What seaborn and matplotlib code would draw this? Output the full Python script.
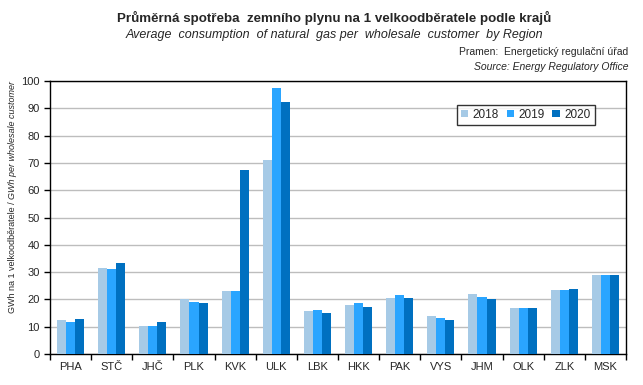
import pandas as pd
import numpy as np
import matplotlib
matplotlib.use("Agg")
import matplotlib.pyplot as plt
import seaborn as sns

# --- data ---
kraje = ['PHA', 'STČ', 'JHČ', 'PLK', 'KVK', 'ULK', 'LBK', 'HKK', 'PAK', 'VYS', 'JHM', 'OLK', 'ZLK', 'MSK']
roky = ['2018', '2019', '2020']
v2018 = [12.6, 31.6, 10.4, 20.2, 23.2, 71.1, 15.9, 18.0, 20.6, 14.0, 22.1, 17.0, 23.5, 29.0]
v2019 = [11.8, 31.2, 10.4, 19.1, 23.2, 97.4, 16.2, 18.8, 21.7, 13.3, 21.0, 17.0, 23.5, 29.0]
v2020 = [12.9, 33.4, 11.8, 18.8, 67.4, 92.3, 15.1, 17.3, 20.6, 12.6, 20.2, 17.0, 23.9, 29.0]
barvy = ['#A6CAE6', '#2AA5FF', '#0070C0']

df = pd.DataFrame({'kraj': kraje * 3,
                   'rok': sum([[r] * len(kraje) for r in roky], []),
                   'hodnota': v2018 + v2019 + v2020})

sns.set_style('white')
plt.rcParams['font.family'] = ['Liberation Sans', 'DejaVu Sans']

fig = plt.figure(figsize=(6.43, 3.85), dpi=100)
ax = fig.add_axes([50 / 643, 31 / 385, 576 / 643, 273 / 385])

sns.barplot(data=df, x='kraj', y='hodnota', hue='rok', palette=barvy,
            width=0.66, gap=0, saturation=1, linewidth=0, ax=ax, zorder=3)

ax.set_ylim(0, 100)
ax.set_xlim(-0.5, len(kraje) - 0.5)
ax.set_yticks(range(0, 101, 10))
ax.yaxis.grid(True, color='#BDBDBD', linewidth=1, zorder=0)
ax.set_axisbelow(True)
for s in ax.spines.values():
    s.set_color('black')
    s.set_linewidth(1)

# ticks between categories
ax.set_xticks(np.arange(-0.5, len(kraje), 1), minor=True)
ax.tick_params(axis='x', which='major', length=0, labelsize=8, pad=6)
ax.tick_params(axis='x', which='minor', length=4, width=1, direction='out', color='black')
ax.tick_params(axis='y', length=4, width=1, direction='out', color='black', labelsize=8)
ax.tick_params(bottom=True, left=True, which='both')
ax.set_xlabel('')
ax.set_ylabel('')

leg = ax.legend(loc='upper left', bbox_to_anchor=(401 / 576, 0.935), ncol=3, fontsize=8.5,
                frameon=True, fancybox=False, edgecolor='black', handlelength=0.6,
                handleheight=0.6, handletextpad=0.4, columnspacing=0.65,
                borderpad=0.35)
leg.get_frame().set_linewidth(1)

# titles
fig.text(334 / 643, 1 - 18 / 385, 'Průměrná spotřeba  zemního plynu na 1 velkoodběratele podle krajů',
         ha='center', va='center', fontsize=9.6, fontweight='bold')
fig.text(334 / 643, 1 - 35 / 385, 'Average  consumption  of natural  gas per  wholesale  customer  by Region',
         ha='center', va='center', fontsize=9, style='italic')
fig.text(628 / 643, 1 - 52 / 385, 'Pramen:  Energetický regulační úřad',
         ha='right', va='center', fontsize=7.5)
fig.text(628 / 643, 1 - 67 / 385, 'Source: Energy Regulatory Office',
         ha='right', va='center', fontsize=7.5, style='italic')

# y label, part regular / part italic
t1 = fig.text(13 / 643, 1 - 313 / 385, 'GWh na 1 velkoodběratele / ', rotation=90,
              ha='center', va='bottom', fontsize=6.5)
fig.canvas.draw()
bb = t1.get_window_extent(fig.canvas.get_renderer())
fig.text(13 / 643, bb.y1 / fig.bbox.height, 'GWh per wholesale customer', rotation=90,
         ha='center', va='bottom', fontsize=6.5, style='italic')

fig.savefig('out.png', dpi=100)
